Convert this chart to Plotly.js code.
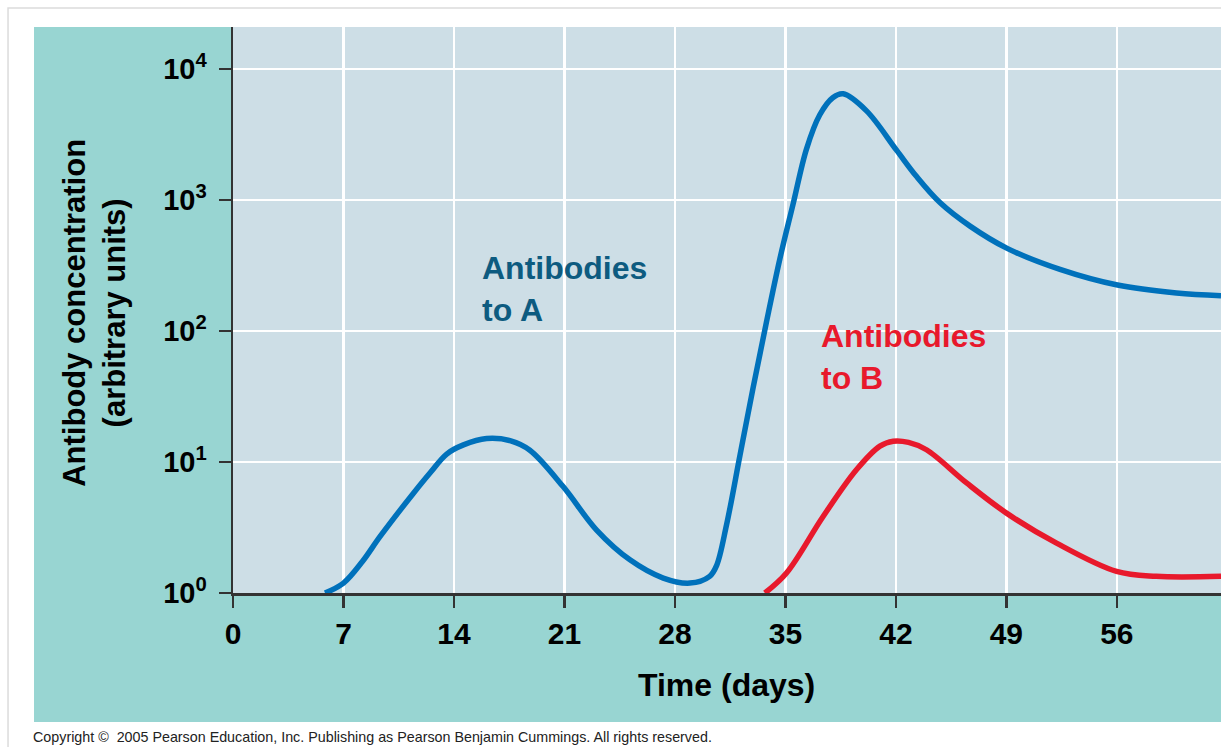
<!DOCTYPE html>
<html>
<head>
<meta charset="utf-8">
<script src="https://cdn.plot.ly/plotly-3.0.1.min.js"></script>
<style>html,body{margin:0;padding:0;background:#fff;}#chart{width:1221px;height:747px;}</style>
</head>
<body>
<div id="chart"></div>
<script>
// Time in days, antibody concentration in arbitrary units
var daysA = [5.83, 7.0, 8.2, 9.31, 11.42, 12.48, 13.54, 14.6, 16.07, 17.6, 18.81, 20.93, 23.04, 25.15, 27.26, 28.95, 30.2, 30.64, 31.27, 32.12, 32.96, 33.8, 34.65, 35.49, 36.34, 37.18, 38.0, 38.66, 40.14, 42.04, 43.3, 44.79, 46.7, 49.05, 52.4, 56.04, 59.78, 62.6];
var antibodiesA = [1.0, 1.19, 1.74, 2.69, 5.75, 8.24, 11.5, 13.5, 15.1, 14.5, 12.3, 6.46, 3.02, 1.79, 1.30, 1.19, 1.34, 1.62, 3.31, 11.2, 37.2, 117, 355, 933, 2455, 4467, 6026, 6457, 4786, 2399, 1514, 955, 631, 427, 295, 224, 195, 186];

var daysB = [33.7, 35.07, 37.4, 39.5, 40.99, 41.83, 42.8, 43.94, 46.48, 49.01, 52.18, 55.98, 58.5, 62.6];
var antibodiesB = [1.0, 1.42, 3.85, 8.71, 13.2, 14.4, 14.1, 12.4, 6.92, 4.07, 2.40, 1.46, 1.34, 1.34];

var xTickVals = [0, 7, 14, 21, 28, 35, 42, 49, 56];
var yTickVals = [1, 10, 100, 1000, 10000];
var yTickText = ['10<sup>0</sup>', '10<sup>1</sup>', '10<sup>2</sup>', '10<sup>3</sup>', '10<sup>4</sup>'];

var FONT = 'Liberation Sans, Arial, Helvetica, sans-serif';

var traces = [
  {x: daysA, y: antibodiesA, type: 'scatter', mode: 'lines', name: 'Antibodies to A',
   line: {color: '#0071bb', width: 5.5, shape: 'spline', smoothing: 1.0}, hoverinfo: 'x+y'},
  {x: daysB, y: antibodiesB, type: 'scatter', mode: 'lines', name: 'Antibodies to B',
   line: {color: '#e8192c', width: 5.5, shape: 'spline', smoothing: 1.0}, hoverinfo: 'x+y'}
];

var layout = {
  width: 1221, height: 747,
  margin: {l: 233, r: 0, t: 27, b: 154, pad: 0},
  paper_bgcolor: '#ffffff',
  plot_bgcolor: 'rgba(0,0,0,0)',
  showlegend: false,
  font: {family: FONT, color: '#000'},
  xaxis: {
    range: [0, 62.6], tickmode: 'array', tickvals: xTickVals,
    showgrid: true, gridcolor: '#ffffff', gridwidth: 2.5,
    showline: true, linecolor: '#333333', linewidth: 2.5,
    ticks: 'outside', ticklen: 12, tickwidth: 2.5, tickcolor: '#333333',
    tickfont: {family: FONT, size: 30, weight: 'bold', color: '#000'},
    zeroline: false, fixedrange: true
  },
  yaxis: {
    type: 'log', range: [0, 4.32], tickmode: 'array', tickvals: yTickVals, ticktext: yTickText,
    showgrid: true, gridcolor: '#ffffff', gridwidth: 2.5,
    showline: true, linecolor: '#333333', linewidth: 2.5,
    ticks: 'outside', ticklen: 12, tickwidth: 2.5, tickcolor: '#333333',
    ticklabelstandoff: 6,
    tickfont: {family: FONT, size: 29, weight: 'bold', color: '#000'},
    zeroline: false, fixedrange: true
  },
  shapes: [
    {type: 'rect', xref: 'paper', yref: 'paper', x0: -0.2277, x1: 1.05, y0: -0.35, y1: 1.0336,
     line: {color: '#dcdcdc', width: 1.5}, fillcolor: '#ffffff', layer: 'below'},
    {type: 'rect', xref: 'paper', yref: 'paper', x0: -0.2014, x1: 1.02, y0: -0.2279, y1: 1,
     line: {width: 0}, fillcolor: '#98d5d2', layer: 'below'},
    {type: 'rect', xref: 'paper', yref: 'paper', x0: 0, x1: 1.02, y0: 0, y1: 1,
     line: {width: 0}, fillcolor: '#cddee6', layer: 'below'}
  ],
  annotations: [
    {text: 'Antibodies<br>to A', xref: 'x', yref: 'y', x: 15.65, y: 2.32, xanchor: 'left', yanchor: 'middle',
     align: 'left', showarrow: false, font: {family: FONT, size: 32, weight: 'bold', color: '#0d5b80'}},
    {text: 'Antibodies<br>to B', xref: 'x', yref: 'y', x: 37.1, y: 1.80, xanchor: 'left', yanchor: 'middle',
     align: 'left', showarrow: false, font: {family: FONT, size: 32, weight: 'bold', color: '#e8192c'}},
    {text: 'Antibody concentration<br>(arbitrary units)', xref: 'paper', yref: 'paper', x: -0.1397, y: 0.495,
     xanchor: 'center', yanchor: 'middle', textangle: -90, showarrow: false,
     font: {family: FONT, size: 31, weight: 'bold', color: '#000'}},
    {text: 'Time (days)', xref: 'paper', yref: 'paper', x: 0.499, y: -0.1625, xanchor: 'center', yanchor: 'middle',
     showarrow: false, font: {family: FONT, size: 32, weight: 'bold', color: '#000'}},
    {text: 'Copyright \u00a9  2005 Pearson Education, Inc. Publishing as Pearson Benjamin Cummings. All rights reserved.',
     xref: 'paper', yref: 'paper', x: -0.2045, y: -0.2544, xanchor: 'left', yanchor: 'middle',
     showarrow: false, font: {family: FONT, size: 14.3, color: '#222'}}
  ]
};

Plotly.newPlot('chart', traces, layout, {displayModeBar: false, staticPlot: true});
</script>
</body>
</html>
